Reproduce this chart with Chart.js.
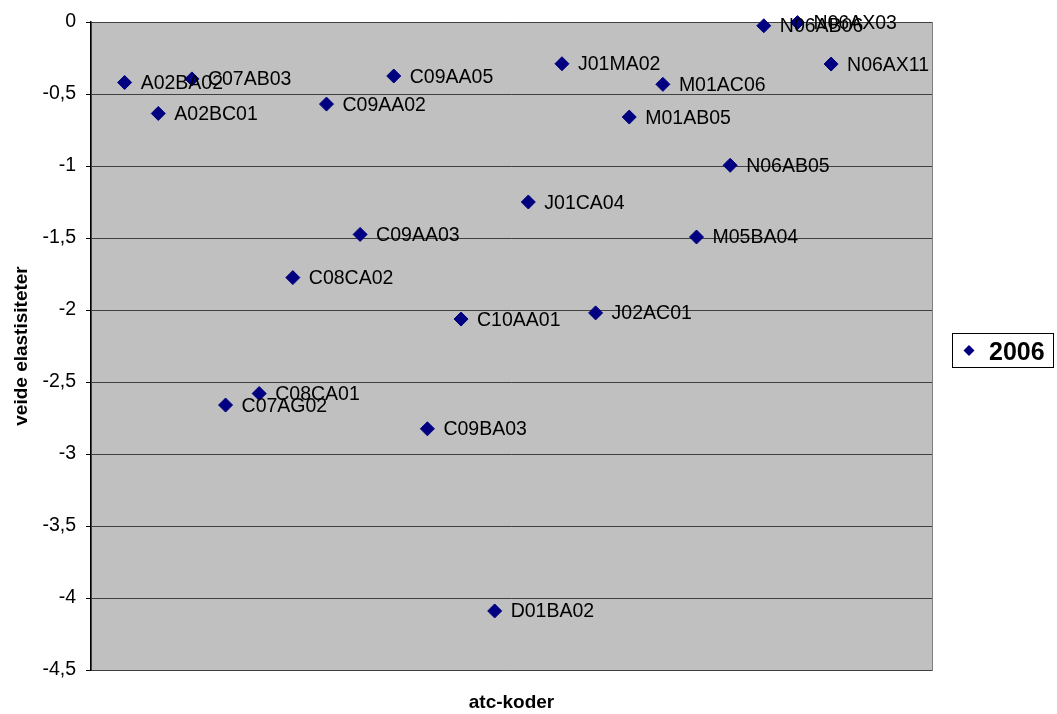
<!DOCTYPE html>
<html>
<head>
<meta charset="utf-8">
<script src="https://cdn.jsdelivr.net/npm/chart.js@4"></script>
<style>
  body { margin: 0; background: #fff; }
  #wrap { width: 1057px; height: 714px; }
</style>
</head>
<body>
<div id="wrap"><canvas id="chart" width="1057" height="714"></canvas></div>
<script>
// ATC codes, in the order they are plotted (x = 1, 2, 3 ...)
const atcCodes = [
    "A02BA02", "A02BC01", "C07AB03", "C07AG02", "C08CA01", "C08CA02",
    "C09AA02", "C09AA03", "C09AA05", "C09BA03", "C10AA01", "D01BA02",
    "J01CA04", "J01MA02", "J02AC01", "M01AB05", "M01AC06", "M05BA04",
    "N06AB05", "N06AB06", "N06AX03", "N06AX11"
];

// weighted elasticities, 2006
const elast2006 = [
    -0.42, -0.635, -0.395, -2.66, -2.58, -1.775,
    -0.57, -1.475, -0.375, -2.825, -2.063, -4.09,
    -1.25, -0.29, -2.02, -0.66, -0.433, -1.493,
    -0.995, -0.026, -0.004, -0.292
];

const seriesLabel = "2006";
const yTicks = [0, -0.5, -1, -1.5, -2, -2.5, -3, -3.5, -4, -4.5];

const NAVY = "#000080";
const FONT = "'Liberation Sans', Arial, sans-serif";

const points = atcCodes.map((code, i) => ({ x: i + 1, y: elast2006[i], code: code }));

// grey plot area with a thin border
const plotBackground = {
    id: "plotBackground",
    beforeDraw(chart) {
        const { ctx, chartArea: a } = chart;
        ctx.save();
        ctx.fillStyle = "#c0c0c0";
        ctx.fillRect(a.left, a.top, a.right - a.left, a.bottom - a.top);
        ctx.strokeStyle = "#808080";
        ctx.lineWidth = 1;
        ctx.strokeRect(Math.round(a.left) + 0.5, Math.round(a.top) + 0.5,
            Math.round(a.right - a.left), Math.round(a.bottom - a.top));
        ctx.restore();
    }
};

// ATC code written to the right of each point
const pointLabels = {
    id: "pointLabels",
    afterDatasetsDraw(chart) {
        const ctx = chart.ctx;
        const meta = chart.getDatasetMeta(0);
        ctx.save();
        ctx.font = "19.5px " + FONT;
        ctx.fillStyle = "#000";
        ctx.textAlign = "left";
        ctx.textBaseline = "alphabetic";
        meta.data.forEach((el, i) => {
            ctx.fillText(points[i].code, el.x + 16, el.y + 6.5);
        });
        ctx.restore();
    }
};

// boxed legend on the right
const boxLegend = {
    id: "boxLegend",
    afterDraw(chart) {
        const ctx = chart.ctx;
        const bx = 952, by = 333, bw = 101, bh = 34;
        ctx.save();
        ctx.fillStyle = "#fff";
        ctx.fillRect(bx, by, bw, bh);
        ctx.strokeStyle = "#000";
        ctx.lineWidth = 1;
        ctx.strokeRect(bx + 0.5, by + 0.5, bw, bh);
        const cx = 969, cy = by + bh / 2 + 0.5;
        ctx.fillStyle = NAVY;
        ctx.beginPath();
        ctx.moveTo(cx - 5.5, cy);
        ctx.lineTo(cx, cy - 5.5);
        ctx.lineTo(cx + 5.5, cy);
        ctx.lineTo(cx, cy + 5.5);
        ctx.closePath();
        ctx.fill();
        ctx.fillStyle = "#000";
        ctx.font = "bold 25px " + FONT;
        ctx.textBaseline = "alphabetic";
        ctx.fillText(seriesLabel, 989, cy + 9);
        ctx.restore();
    }
};

new Chart(document.getElementById("chart"), {
    type: "scatter",
    data: {
        datasets: [{
            label: seriesLabel,
            data: points,
            pointStyle: "rectRot",
            pointRadius: 7,
            pointHoverRadius: 7,
            backgroundColor: NAVY,
            borderColor: NAVY,
            borderWidth: 1,
            clip: false
        }]
    },
    options: {
        responsive: false,
        animation: false,
        events: [],
        layout: { padding: { left: 0, top: 22, right: 125, bottom: 0 } },
        plugins: {
            legend: { display: false },
            tooltip: { enabled: false }
        },
        scales: {
            x: {
                type: "linear",
                min: 0,
                max: 25,
                grid: { display: false },
                border: { display: false },
                ticks: { display: false },
                title: {
                    display: true,
                    text: "atc-koder",
                    color: "#000",
                    font: { family: FONT, size: 19, weight: "bold" },
                    padding: { top: 0, bottom: 0 }
                },
                afterFit(scale) { scale.height = 44; }
            },
            y: {
                type: "linear",
                min: -4.5,
                max: 0,
                afterBuildTicks(scale) {
                    scale.ticks = yTicks.map(v => ({ value: v }));
                },
                grid: {
                    color: "#404040",
                    lineWidth: 1,
                    tickLength: 5,
                    tickColor: "#000",
                    drawOnChartArea: true
                },
                border: { display: true, color: "#000", width: 1.5 },
                ticks: {
                    padding: 10,
                    color: "#000",
                    font: { family: FONT, size: 19.5 },
                    callback: v => String(v).replace(".", ",")
                },
                title: {
                    display: true,
                    text: "veide elastisiteter",
                    color: "#000",
                    font: { family: FONT, size: 19, weight: "bold" },
                    padding: { top: 10, bottom: 0 }
                },
                afterFit(scale) { scale.width = 91; }
            }
        }
    },
    plugins: [plotBackground, pointLabels, boxLegend]
});
</script>
</body>
</html>
